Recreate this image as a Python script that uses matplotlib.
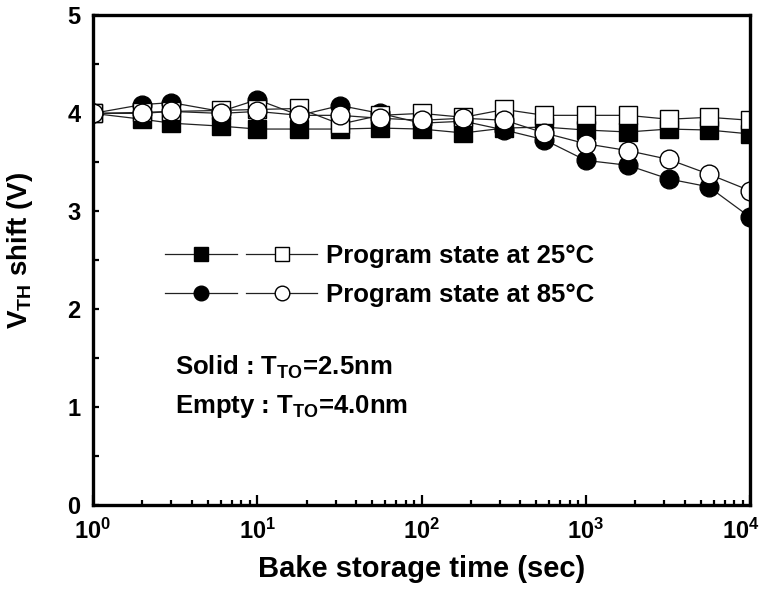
import matplotlib
matplotlib.use("Agg")
import matplotlib.pyplot as plt
import matplotlib.transforms as mtransforms
from matplotlib.legend_handler import HandlerTuple
from matplotlib.ticker import LogLocator, MultipleLocator

plt.rcParams["font.family"] = ["Liberation Sans", "DejaVu Sans"]
plt.rcParams["font.weight"] = "bold"

# bake time (sec)
bake_time = [1, 2, 3, 6, 10, 18, 32, 56, 100, 180, 320, 560, 1000, 1800, 3200, 5600, 10000]

# VTH shift (V)
p25_solid = [4.00, 3.94, 3.90, 3.87, 3.84, 3.84, 3.84, 3.85, 3.84, 3.80, 3.85, 3.86, 3.83, 3.81, 3.84, 3.83, 3.79]
p25_empty = [4.00, 4.01, 4.02, 4.03, 4.04, 4.05, 3.89, 3.98, 4.00, 3.96, 4.04, 3.98, 3.98, 3.98, 3.94, 3.96, 3.93]
p85_solid = [4.00, 4.09, 4.11, 4.02, 4.14, 3.98, 4.08, 4.00, 3.90, 3.92, 3.83, 3.73, 3.52, 3.47, 3.33, 3.25, 2.94]
p85_empty = [4.00, 4.00, 4.02, 4.00, 4.02, 3.98, 3.98, 3.95, 3.93, 3.95, 3.93, 3.80, 3.69, 3.62, 3.53, 3.38, 3.21]

fig = plt.figure(figsize=(7.61, 5.93), dpi=100)
ax = fig.add_axes([0.1222, 0.1484, 0.8634, 0.8255])

line_kw = dict(color="#222222", linewidth=0.9, markeredgecolor="black", markeredgewidth=1.0)

l1, = ax.plot(bake_time, p25_solid, "s-", markersize=12.5, markerfacecolor="black", **line_kw)
l3, = ax.plot(bake_time, p85_solid, "o-", markersize=13.5, markerfacecolor="black", **line_kw)
l2, = ax.plot(bake_time, p25_empty, "s-", markersize=12.5, markerfacecolor="white", **line_kw)
l4, = ax.plot(bake_time, p85_empty, "o-", markersize=13.5, markerfacecolor="white", **line_kw)

ax.set_xscale("log")
ax.set_xlim(1, 10000)
ax.set_ylim(0, 5)
ax.yaxis.set_major_locator(MultipleLocator(1))
ax.yaxis.set_minor_locator(MultipleLocator(0.5))
ax.xaxis.set_major_locator(LogLocator(base=10, numticks=10))
ax.xaxis.set_minor_locator(LogLocator(base=10, subs=range(2, 10), numticks=20))

for side in ["left", "right", "top", "bottom"]:
    ax.spines[side].set_linewidth(2.4)

ax.tick_params(axis="both", which="both", direction="in", width=1.6)
ax.tick_params(axis="y", which="major", length=4, pad=9, labelsize=17)
ax.tick_params(axis="y", which="minor", length=4)
ax.tick_params(axis="x", which="major", length=7, pad=10, labelsize=17)
ax.tick_params(axis="x", which="minor", length=3.5)
for lab in ax.get_xticklabels() + ax.get_yticklabels():
    lab.set_fontweight("bold")

ax.set_xlabel("Bake storage time (sec)", fontsize=21, fontweight="bold", labelpad=8)
ax.set_ylabel(r"V$_{\mathdefault{TH}}$ shift (V)", fontsize=20, fontweight="bold")
ax.yaxis.set_label_coords(-0.088, 0.52)

leg = ax.legend([(l1, l2), (l3, l4)],
                ["Program state at 25°C", "Program state at 85°C"],
                handler_map={tuple: HandlerTuple(ndivide=None, pad=0.35)},
                loc="center left", bbox_to_anchor=(0.109, 0.468),
                frameon=False, numpoints=1, handlelength=5.95, handletextpad=0.35,
                labelspacing=0.58, markerscale=0.78, borderpad=0, borderaxespad=0,
                prop={"size": 18.5, "weight": "bold"})

ax.text(0.125, 0.282, r"Solid : T$_{\mathdefault{TO}}$=2.5nm", transform=ax.transAxes,
        fontsize=18.5, fontweight="bold", va="center")
ax.text(0.125, 0.202, r"Empty : T$_{\mathdefault{TO}}$=4.0nm", transform=ax.transAxes,
        fontsize=18.5, fontweight="bold", va="center")

# nudge the 10^4 label so it stays inside the figure
fig.canvas.draw()
shift = mtransforms.ScaledTranslation(-0.09, 0, fig.dpi_scale_trans)
for tick in ax.xaxis.get_major_ticks():
    if abs(tick.get_loc() - 10000) < 1:
        tick.label1.set_transform(tick.label1.get_transform() + shift)

fig.savefig("out.png", dpi=100)
